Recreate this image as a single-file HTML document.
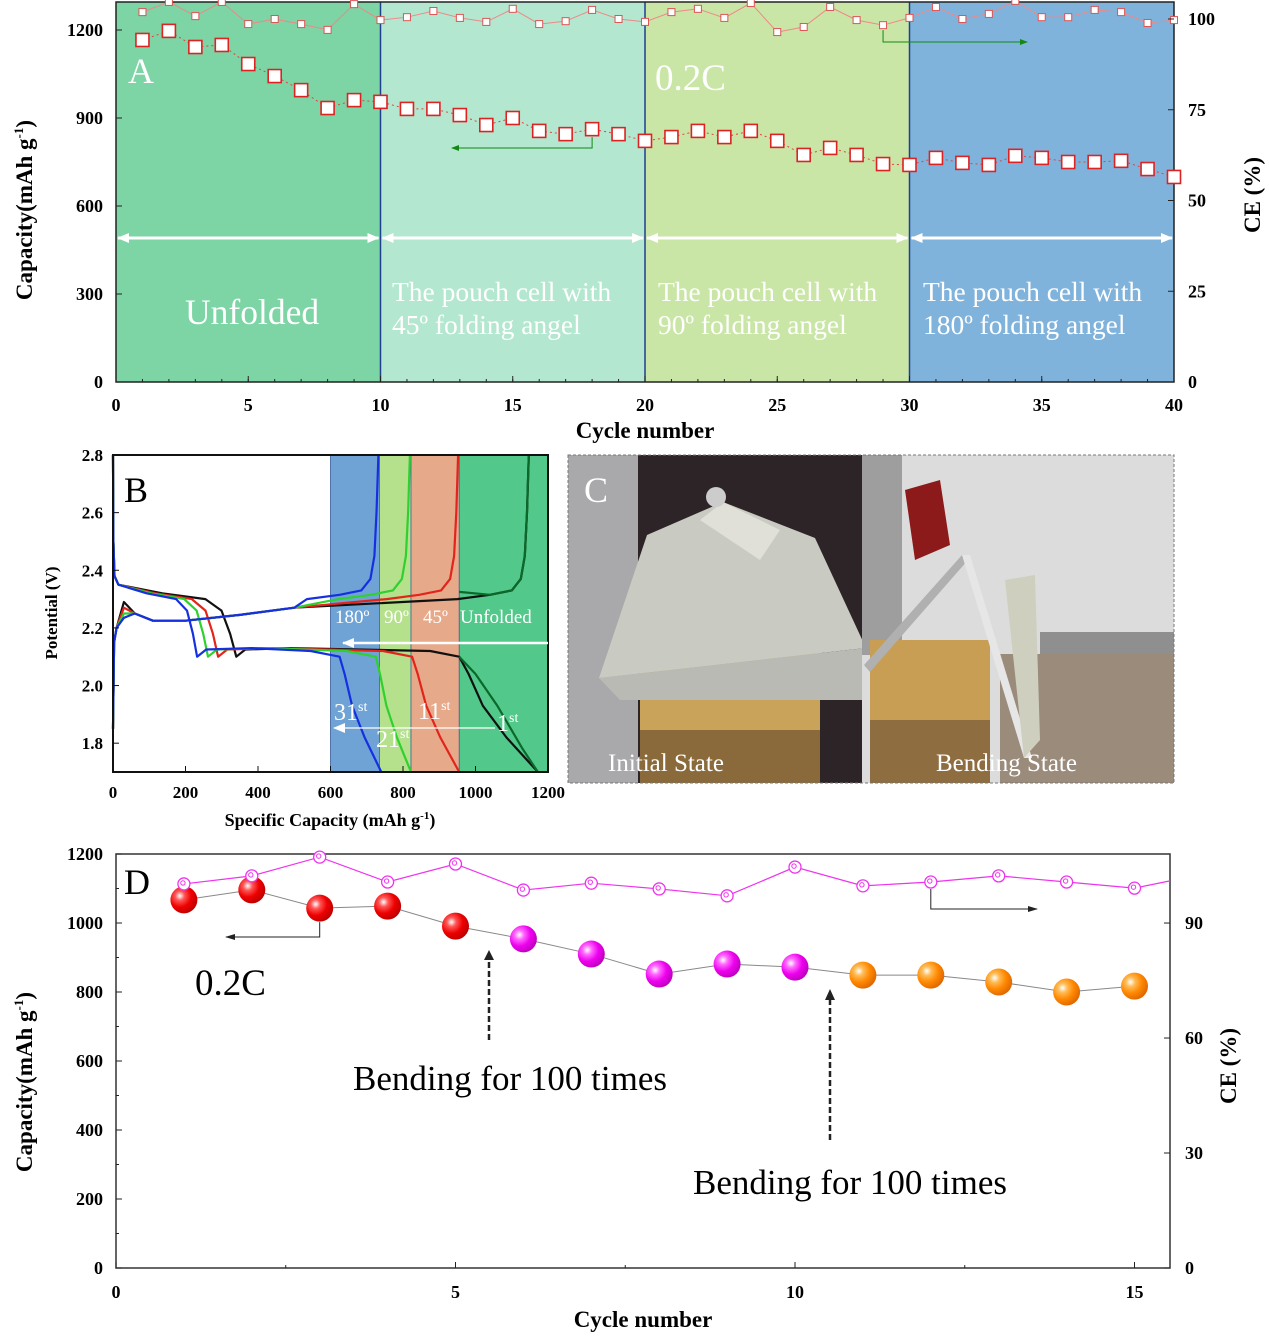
<!DOCTYPE html>
<html><head><meta charset="utf-8"><style>
html,body{margin:0;padding:0;background:#fff}
svg{display:block}
text{font-family:"Liberation Serif",serif}
</style></head><body>
<svg id="fig" width="1269" height="1336" viewBox="0 0 1269 1336" xmlns="http://www.w3.org/2000/svg">
<defs>
<radialGradient id="gRed" cx="0.35" cy="0.35" r="0.7"><stop offset="0" stop-color="#fff"/><stop offset="0.25" stop-color="#f55"/><stop offset="0.6" stop-color="#e00"/><stop offset="1" stop-color="#b00"/></radialGradient>
<radialGradient id="gMag" cx="0.35" cy="0.35" r="0.7"><stop offset="0" stop-color="#fff"/><stop offset="0.25" stop-color="#f6f"/><stop offset="0.6" stop-color="#e0e"/><stop offset="1" stop-color="#b0b"/></radialGradient>
<radialGradient id="gOra" cx="0.35" cy="0.35" r="0.7"><stop offset="0" stop-color="#fff"/><stop offset="0.25" stop-color="#fb5"/><stop offset="0.6" stop-color="#f80"/><stop offset="1" stop-color="#d60"/></radialGradient>
<marker id="arW" markerUnits="userSpaceOnUse" markerWidth="12" markerHeight="10" refX="11" refY="5" orient="auto-start-reverse"><path d="M0,0 L12,5 L0,10 Z" fill="#fff"/></marker>
<marker id="arG" markerUnits="userSpaceOnUse" markerWidth="8" markerHeight="6" refX="7" refY="3" orient="auto"><path d="M0,0 L8,3 L0,6 Z" fill="#118a11"/></marker>
<marker id="arK" markerUnits="userSpaceOnUse" markerWidth="10" markerHeight="6" refX="9" refY="3" orient="auto"><path d="M0,0 L10,3 L0,6 Z" fill="#222"/></marker>
</defs>
<g id="pa"></g>
<g id="pb"></g>
<g id="pc">
  <rect x="568" y="455" width="294" height="328" fill="#2c2426"/>
  <rect x="568" y="455" width="70" height="328" fill="#a9a9ab"/>
  <rect x="640" y="650" width="180" height="133" fill="#c9a35a"/>
  <rect x="640" y="730" width="180" height="53" fill="#8a6a3a"/>
  <polygon points="647,535 723,502 815,538 866,648 599,678" fill="#c9cac2"/>
  <polygon points="700,520 723,502 780,530 760,560" fill="#e0e0d8"/>
  <polygon points="599,678 866,648 866,700 620,700" fill="#b9bab4"/>
  <circle cx="716" cy="497" r="10" fill="#ccc"/>
  <rect x="862" y="455" width="312" height="328" fill="#dcdcdc"/>
  <rect x="862" y="455" width="40" height="200" fill="#9e9e9e"/>
  <polygon points="905,490 940,480 950,545 915,560" fill="#8c1a1a"/>
  <rect x="870" y="640" width="120" height="143" fill="#c79e54"/>
  <rect x="870" y="720" width="120" height="63" fill="#8e6e40"/>
  <rect x="1040" y="632" width="134" height="22" fill="#8f8f8f"/>
  <rect x="1000" y="654" width="174" height="129" fill="#9b8b7b"/>
  <polygon points="864,665 962,555 968,560 870,672" fill="#b0b0b0"/>
  <polygon points="962,555 1024,758 1032,758 970,555" fill="#e6e6e6"/>
  <polygon points="1005,580 1035,575 1040,740 1024,758" fill="#cfcfc0"/>
  <rect x="568" y="455" width="606" height="328" fill="none" stroke="#777" stroke-dasharray="3,2"/>
  <text x="584" y="502" font-size="36" fill="#fff">C</text>
  <text x="608" y="771" font-size="25" fill="#fff">Initial State</text>
  <text x="936" y="771" font-size="25" fill="#fff">Bending State</text>
</g>
<g id="pd"></g>
</svg>
<script>
const NS="http://www.w3.org/2000/svg";
function el(p,tag,at,txt){const e=document.createElementNS(NS,tag);for(const k in at)e.setAttribute(k,at[k]);if(txt!==undefined)e.textContent=txt;p.appendChild(e);return e;}

// ---------- Panel A data ----------
const aCycles=[1,2,3,4,5,6,7,8,9,10,11,12,13,14,15,16,17,18,19,20,21,22,23,24,25,26,27,28,29,30,31,32,33,34,35,36,37,38,39,40];
const aCapacity=[1166,1197,1142,1149,1084,1043,995,934,961,955,931,931,910,876,900,856,845,862,845,822,835,856,835,856,822,774,798,774,743,740,764,747,740,771,764,750,750,754,726,699];
const aCE=[101.9,104.7,100.8,104.7,98.6,100,98.6,97.0,104.1,99.7,100.5,102.2,100.3,99.2,102.8,98.6,99.4,102.5,100,99.2,101.9,102.8,100.3,104.4,96.4,97.8,103.3,99.7,98.3,100.3,103.3,100,101.4,105,100.5,100.5,102.5,101.9,98.9,99.7];
const aXTicks=[0,5,10,15,20,25,30,35,40];
const aYTicks=[0,300,600,900,1200];
const aCETicks=[0,25,50,75,100];

// ---------- Panel B data ----------
const bXTicks=[0,200,400,600,800,1000,1200];
const bYTicks=[1.8,2.0,2.2,2.4,2.6,2.8];
const bCycleNames=["1st","11th","21st","31st"];
const bCapacity=[1172,955,822,740];
const bKnee=[340,290,262,232];
const bDropStart=[955,825,725,625];
const bChargeEnd=[1150,955,822,735];
const bBump=[2.29,2.27,2.25,2.235];
const bColors=["#111","#e3241b","#2ed12e","#1530e0"];

// ---------- Panel D data ----------
const dCycles=[1,2,3,4,5,6,7,8,9,10,11,12,13,14,15];
const dCapacity=[1067,1096,1043,1049,991,954,910,852,881,872,849,849,829,800,817];
const dCE=[100.2,102.3,107.2,100.7,105.4,98.6,100.4,98.9,97.1,104.6,99.7,100.7,102.3,100.7,99.1];
const dXTicks=[0,5,10,15];
const dYTicks=[0,200,400,600,800,1000,1200];
const dCETicks=[0,30,60,90];

// ===== Panel A =====
(function(){
const g=document.getElementById('pa');
const X0=116,X1=1174,Y0=2,Y1=382;
const x=c=>X0+c*(X1-X0)/40;
const y=v=>Y1-v*(352/1200);
const yc=v=>Y1-v*3.63;
const bands=[[0,10,"#7dd4a5"],[10,20,"#b4e7cf"],[20,30,"#cae6a6"],[30,40,"#80b3dc"]];
bands.forEach((b,i)=>{const r=el(g,'rect',{x:x(b[0]),y:Y0,width:x(b[1])-x(b[0]),height:Y1-Y0,fill:b[2]});

});
[10,20,30].forEach(c=>el(g,'line',{x1:x(c),y1:Y0,x2:x(c),y2:Y1,stroke:"#1f3f8f","stroke-width":1.5}));
el(g,'rect',{x:X0,y:Y0,width:X1-X0,height:Y1-Y0,fill:"none",stroke:"#222","stroke-width":1.5});
[[0,10],[10,20],[20,30],[30,40]].forEach(p=>el(g,'line',{x1:x(p[0])+2,y1:238,x2:x(p[1])-2,y2:238,stroke:"#fff","stroke-width":3,"marker-start":"url(#arW)","marker-end":"url(#arW)"}));
let pc="",pe="";aCycles.forEach((c,i)=>{pc+=(i?"L":"M")+x(c)+","+y(aCapacity[i]);pe+=(i?"L":"M")+x(c)+","+yc(aCE[i]);});
el(g,'path',{d:pc,fill:"none",stroke:"#d44","stroke-width":1,"stroke-dasharray":"2,3"});
el(g,'path',{d:pe,fill:"none",stroke:"#e88","stroke-width":1});
aCycles.forEach((c,i)=>{
 const r=el(g,'rect',{x:x(c)-6.5,y:y(aCapacity[i])-6.5,width:13,height:13,fill:"#fff",stroke:"#d22","stroke-width":1.6});
 
 
 const s=el(g,'rect',{x:x(c)-3.5,y:yc(aCE[i])-3.5,width:7,height:7,fill:"#fff",stroke:"#d55","stroke-width":1});
 
 
});
el(g,'path',{d:`M${x(18)},${y(862)+8} V148 H452`,fill:"none",stroke:"#118a11","stroke-width":1,"marker-end":"url(#arG)"});
el(g,'path',{d:`M${x(29)},${yc(98.3)+5} V42 H1027`,fill:"none",stroke:"#118a11","stroke-width":1,"marker-end":"url(#arG)"});
aXTicks.forEach(t=>{el(g,'line',{x1:x(t),y1:Y1,x2:x(t),y2:Y1-6,stroke:"#222"});
 const tx=el(g,'text',{x:x(t),y:411,"font-size":18,"font-weight":"bold","text-anchor":"middle"},t);
 
 });
for(let t=0;t<=40;t++)el(g,'line',{x1:x(t),y1:Y1,x2:x(t),y2:Y1-3,stroke:"#222"});
aYTicks.forEach(t=>{el(g,'line',{x1:X0,y1:y(t),x2:X0+6,y2:y(t),stroke:"#222"});
 const tx=el(g,'text',{x:103,y:y(t)+6,"font-size":18,"font-weight":"bold","text-anchor":"end"},t);
 
 });
aCETicks.forEach(t=>{el(g,'line',{x1:X1,y1:yc(t),x2:X1-6,y2:yc(t),stroke:"#222"});
 const tx=el(g,'text',{x:1188,y:yc(t)+6,"font-size":18,"font-weight":"bold"},t);
 
 });
const lab=[["A",128,83,36],["0.2C",655,90,37],["Unfolded",185,324,35.5]];
lab.forEach(l=>el(g,'text',{x:l[1],y:l[2],"font-size":l[3],fill:"#fff"},l[0]));
[["45º",392],["90º",658],["180º",923]].forEach(l=>{el(g,'text',{x:l[1],y:301,"font-size":27.5,fill:"#fff"},"The pouch cell with");el(g,'text',{x:l[1],y:334,"font-size":27.5,fill:"#fff"},l[0]+" folding angel");});
const t1=el(g,'text',{x:645,y:438,"font-size":23,"font-weight":"bold","text-anchor":"middle"},"Cycle number");


const t2=el(g,'text',{transform:"translate(32,210) rotate(-90)","font-size":23,"font-weight":"bold","text-anchor":"middle"});
t2.innerHTML='Capacity(mAh g<tspan font-size="13" dy="-9">-1</tspan><tspan dy="9">)</tspan>';


const t3=el(g,'text',{transform:"translate(1260,195) rotate(-90)","font-size":23,"font-weight":"bold","text-anchor":"middle"},"CE (%)");


})();

// ===== Panel B =====
(function(){
const g=document.getElementById('pb');
const X0=113,X1=548,Y0=455,Y1=772;
const x=v=>X0+v*(X1-X0)/1200;
const y=v=>Y1-(v-1.7)*(Y1-Y0)/1.1;
const bands=[[600,bChargeEnd[3],"#6fa3d5"],[bChargeEnd[3],bChargeEnd[2],"#b5e08c"],[bChargeEnd[2],bChargeEnd[1],"#e6a98a"],[bChargeEnd[1],1200,"#52c98a"]];
bands.forEach((b,i)=>{const r=el(g,'rect',{x:x(b[0]),y:Y0,width:x(b[1])-x(b[0]),height:Y1-Y0,fill:b[2]});


el(g,'line',{x1:x(b[0]),y1:Y0,x2:x(b[0]),y2:Y1,stroke:"#3a5a9a","stroke-width":0.8});});
const line=pts=>{let d="";pts.forEach((p,i)=>d+=(i?"L":"M")+x(p[0]).toFixed(1)+","+y(p[1]).toFixed(1));return d;};
bCapacity.forEach((Q,i)=>{
 const K=bKnee[i],D=bDropStart[i],C=bChargeEnd[i];
 const dis=[[0,2.8],[1,2.5],[4,2.38],[15,2.35],[K*0.4,2.32],[K*0.75,2.30],[K*0.88,2.26],[K*0.95,2.18],[K,2.10],[K+25,2.125],[K+150,2.13],[D-80,2.12],[D,2.10],[D+(Q-D)*0.12,2.04],[D+(Q-D)*0.3,1.93],[D+(Q-D)*0.6,1.82],[Q,1.7]];
 const chg=[[0,1.85],[3,2.15],[10,2.2],[30,bBump[i]],[60,2.25],[110,2.225],[200,2.225],[350,2.245],[500,2.27],[C-200,2.30],[C-110,2.315],[C-50,2.33],[C-25,2.37],[C-14,2.45],[C-8,2.6],[C-3,2.8]];
 const p1=el(g,'path',{d:line(dis),fill:"none",stroke:bColors[i],"stroke-width":2.2,"stroke-linejoin":"round"});
 
 
 const p2=el(g,'path',{d:line(chg),fill:"none",stroke:bColors[i],"stroke-width":2.2,"stroke-linejoin":"round"});
 
 
});
el(g,'path',{d:line([[955,2.10],[1000,2.04],[1060,1.93],[1130,1.78],[1172,1.7]]),fill:"none",stroke:"#0b6a2a","stroke-width":2.2});
el(g,'path',{d:line([[955,2.325],[1040,2.315],[1100,2.33],[1125,2.37],[1136,2.45],[1142,2.6],[1147,2.8]]),fill:"none",stroke:"#0b6a2a","stroke-width":2.2});
el(g,'rect',{x:X0,y:Y0,width:X1-X0,height:Y1-Y0,fill:"none",stroke:"#111","stroke-width":2});
el(g,'line',{x1:548,y1:643,x2:343,y2:643,stroke:"#fff","stroke-width":2.5,"marker-end":"url(#arW)"});
el(g,'line',{x1:495,y1:728,x2:334,y2:728,stroke:"#fff","stroke-width":1.2,"marker-end":"url(#arW)"});
const lbl=[["180º",335],["90º",384],["45º",423],["Unfolded",460]];
lbl.forEach(l=>el(g,'text',{x:l[1],y:623,"font-size":19,fill:"#fff"},l[0]));
[["31",334,720],["21",376,747],["11",418,719],["1",497,731]].forEach(l=>{const t=el(g,'text',{x:l[1],y:l[2],"font-size":24,fill:"#fff"});t.innerHTML=l[0]+'<tspan font-size="14" dy="-9">st</tspan>';});
el(g,'text',{x:124,y:502,"font-size":36},"B");
bXTicks.forEach(t=>{el(g,'line',{x1:x(t),y1:Y1,x2:x(t),y2:Y1-6,stroke:"#111"});
 const tx=el(g,'text',{x:x(t),y:798,"font-size":17,"font-weight":"bold","text-anchor":"middle"},t);
 
 });
bYTicks.forEach(t=>{el(g,'line',{x1:X0,y1:y(t),x2:X0+6,y2:y(t),stroke:"#111"});
 const tx=el(g,'text',{x:103,y:y(t)+6,"font-size":17,"font-weight":"bold","text-anchor":"end"},t.toFixed(1));
 
 });
const t1=el(g,'text',{x:330,y:826,"font-size":18,"font-weight":"bold","text-anchor":"middle"});
t1.innerHTML='Specific Capacity (mAh g<tspan font-size="11" dy="-7">-1</tspan><tspan dy="7">)</tspan>';


const t2=el(g,'text',{transform:"translate(57,613) rotate(-90)","font-size":17,"font-weight":"bold","text-anchor":"middle"},"Potential (V)");


})();

// ===== Panel D =====
(function(){
const g=document.getElementById('pd');
const X0=116,X1=1170,Y0=854,Y1=1268;
const x=c=>X0+c*67.9;
const y=v=>Y1-v*0.345;
const yc=v=>Y1-v*3.833;
el(g,'rect',{x:X0,y:Y0,width:X1-X0,height:Y1-Y0,fill:"none",stroke:"#333","stroke-width":1.5});
let pc="",pe="";dCycles.forEach((c,i)=>{pc+=(i?"L":"M")+x(c)+","+y(dCapacity[i]);pe+=(i?"L":"M")+x(c)+","+yc(dCE[i]);});
pe+="L"+X1+","+yc(101);
el(g,'path',{d:pc,fill:"none",stroke:"#888","stroke-width":1});
el(g,'path',{d:pe,fill:"none",stroke:"#e3e","stroke-width":1.2});
dCycles.forEach((c,i)=>{
 const f=i<5?"url(#gRed)":(i<10?"url(#gMag)":"url(#gOra)");
 const b=el(g,'circle',{cx:x(c),cy:y(dCapacity[i]),r:13.5,fill:f});
 
 
 const o=el(g,'circle',{cx:x(c),cy:yc(dCE[i]),r:6,fill:"#fff",stroke:"#e3e","stroke-width":1.3});
 
 
 el(g,'circle',{cx:x(c)-1,cy:yc(dCE[i])-1,r:2.2,fill:"none",stroke:"#e3e","stroke-width":1});
});
el(g,'path',{d:`M${x(3)},${y(dCapacity[2])+14} V937 H226`,fill:"none",stroke:"#222","stroke-width":1,"marker-end":"url(#arK)"});
el(g,'path',{d:`M${x(12)},${yc(dCE[11])+7} V909 H1037`,fill:"none",stroke:"#222","stroke-width":1,"marker-end":"url(#arK)"});
el(g,'line',{x1:489,y1:1040,x2:489,y2:952,stroke:"#222","stroke-width":2.5,"stroke-dasharray":"6,3"});
el(g,'path',{d:"M484,960 L489,950 L494,960 Z",fill:"#222"});
el(g,'line',{x1:830,y1:1140,x2:830,y2:996,stroke:"#222","stroke-width":2.5,"stroke-dasharray":"6,3"});
el(g,'path',{d:"M825,1000 L830,989 L835,1000 Z",fill:"#222"});
el(g,'text',{x:124,y:894,"font-size":36},"D");
el(g,'text',{x:195,y:995,"font-size":37},"0.2C");
el(g,'text',{x:353,y:1090,"font-size":35},"Bending for 100 times");
el(g,'text',{x:693,y:1194,"font-size":35},"Bending for 100 times");
dXTicks.forEach(t=>{el(g,'line',{x1:x(t),y1:Y1,x2:x(t),y2:Y1-6,stroke:"#222"});
 const tx=el(g,'text',{x:x(t),y:1298,"font-size":18,"font-weight":"bold","text-anchor":"middle"},t);
 
 });
for(let t=0;t<=15;t+=2.5)el(g,'line',{x1:x(t),y1:Y1,x2:x(t),y2:Y1-3,stroke:"#222"});
dYTicks.forEach(t=>{el(g,'line',{x1:X0,y1:y(t),x2:X0+6,y2:y(t),stroke:"#222"});
 if(t<1200)el(g,'line',{x1:X0,y1:y(t+100),x2:X0+3,y2:y(t+100),stroke:"#222"});
 const tx=el(g,'text',{x:103,y:y(t)+6,"font-size":18,"font-weight":"bold","text-anchor":"end"},t);
 
 });
dCETicks.forEach(t=>{el(g,'line',{x1:X1,y1:yc(t),x2:X1-6,y2:yc(t),stroke:"#222"});
 const tx=el(g,'text',{x:1185,y:yc(t)+6,"font-size":18,"font-weight":"bold"},t);
 
 });
const t1=el(g,'text',{x:643,y:1327,"font-size":23,"font-weight":"bold","text-anchor":"middle"},"Cycle number");


const t2=el(g,'text',{transform:"translate(32,1082) rotate(-90)","font-size":23,"font-weight":"bold","text-anchor":"middle"});
t2.innerHTML='Capacity(mAh g<tspan font-size="13" dy="-9">-1</tspan><tspan dy="9">)</tspan>';


const t3=el(g,'text',{transform:"translate(1236,1066) rotate(-90)","font-size":23,"font-weight":"bold","text-anchor":"middle"},"CE (%)");


})();
</script>
</body></html>
